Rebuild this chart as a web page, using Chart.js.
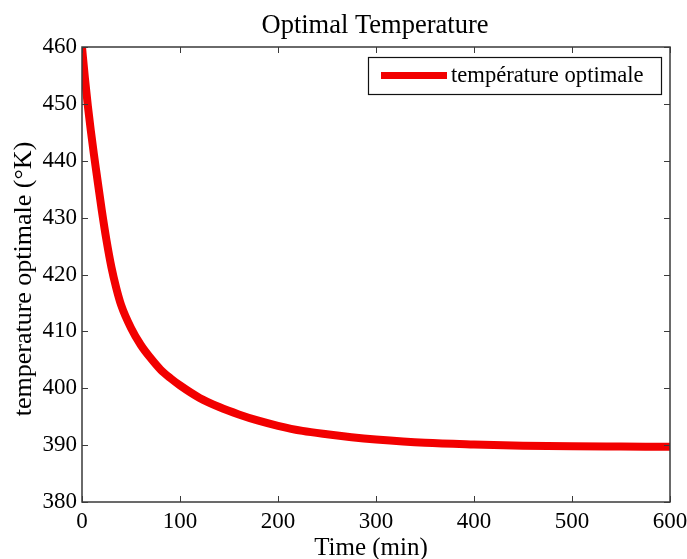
<!DOCTYPE html>
<html>
<head>
<meta charset="utf-8">
<script src="https://cdn.jsdelivr.net/npm/chart.js@4.4.1/dist/chart.umd.min.js"></script>
<style>
html,body{margin:0;padding:0;background:#fff;}
#wrap{width:687px;height:559px;position:relative;}
</style>
</head>
<body>
<div id="wrap"><canvas id="c" width="687" height="559"></canvas></div>
<script>
const chartTitle = "Optimal Temperature";
const xTitle = "Time (min)";
const yTitle = "temperature optimale (\u00B0K)";
const seriesLabel = "température optimale";
const xTicks = [0, 100, 200, 300, 400, 500, 600];
const yTicks = [380, 390, 400, 410, 420, 430, 440, 450, 460];
const times = [0, 3, 6, 9, 12, 15, 20, 25, 30, 35, 40, 50, 60, 70, 80, 90, 100, 120, 140, 160, 180, 200, 225, 250, 275, 300, 350, 400, 450, 500, 550, 600];
const temps = [460, 454.5, 449.6, 445.3, 441.3, 437.6, 431.5, 426.0, 421.3, 417.6, 414.6, 410.6, 407.6, 405.3, 403.3, 401.8, 400.5, 398.3, 396.7, 395.4, 394.3, 393.4, 392.5, 391.9, 391.4, 391.0, 390.4, 390.1, 389.9, 389.8, 389.75, 389.7];

const FONT = "'Liberation Serif', 'Times New Roman', serif";
const frameColor = '#3a3a3a';

const framePlugin = {
  id: 'frame',
  afterDatasetsDraw(chart) {
    const {ctx, chartArea: a, scales} = chart;
    ctx.save();
    ctx.strokeStyle = frameColor;
    ctx.lineWidth = 1.5;
    ctx.strokeRect(a.left, a.top, a.right - a.left, a.bottom - a.top);
    const L = 6;
    ctx.lineWidth = 1;
    ctx.beginPath();
    xTicks.forEach(v => {
      const x = Math.round(scales.x.getPixelForValue(v)) + 0.5;
      ctx.moveTo(x, a.bottom); ctx.lineTo(x, a.bottom - L);
      ctx.moveTo(x, a.top); ctx.lineTo(x, a.top + L);
    });
    yTicks.forEach(v => {
      const y = Math.round(scales.y.getPixelForValue(v)) + 0.5;
      ctx.moveTo(a.left, y); ctx.lineTo(a.left + L, y);
      ctx.moveTo(a.right, y); ctx.lineTo(a.right - L, y);
    });
    ctx.stroke();
    // titles
    ctx.fillStyle = '#000';
    ctx.textAlign = 'center';
    ctx.textBaseline = 'alphabetic';
    ctx.font = "26.5px " + FONT;
    ctx.fillText(chartTitle, (a.left + a.right) / 2 - 1, 33);
    ctx.font = "25px " + FONT;
    ctx.fillText(xTitle, (a.left + a.right) / 2 - 5, 555);
    ctx.save();
    ctx.translate(31, 279);
    ctx.rotate(-Math.PI / 2);
    ctx.font = "26px " + FONT;
    ctx.fillText(yTitle, 0, 0);
    ctx.restore();
    // legend
    const ds = chart.data.datasets[0];
    const bx = 368, by = 57, bw = 293, bh = 37;
    ctx.fillStyle = '#fff';
    ctx.fillRect(bx, by, bw, bh);
    ctx.strokeStyle = '#111';
    ctx.lineWidth = 1.2;
    ctx.strokeRect(bx + 0.5, by + 0.5, bw, bh);
    ctx.strokeStyle = ds.borderColor;
    ctx.lineWidth = 7;
    ctx.beginPath();
    ctx.moveTo(381, 75.5); ctx.lineTo(447, 75.5);
    ctx.stroke();
    ctx.fillStyle = '#000';
    ctx.font = "22.6px " + FONT;
    ctx.textAlign = 'left';
    ctx.fillText(ds.label, 451, 82);
    ctx.restore();
  }
};

new Chart(document.getElementById('c'), {
  type: 'line',
  data: {
    datasets: [{
      label: seriesLabel,
      data: times.map((t, i) => ({x: t, y: temps[i]})),
      borderColor: '#f20000',
      borderWidth: 8,
      pointRadius: 0,
      fill: false,
      cubicInterpolationMode: 'monotone',
      borderCapStyle: 'butt'
    }]
  },
  options: {
    responsive: false,
    animation: false,
    devicePixelRatio: 1,
    layout: {padding: {top: 47, right: 17, left: 0, bottom: 0}},
    plugins: {
      legend: {display: false},
      tooltip: {enabled: false},
      title: {display: false}
    },
    scales: {
      x: {
        type: 'linear',
        min: 0, max: 600,
        afterBuildTicks: s => { s.ticks = xTicks.map(v => ({value: v})); },
        afterFit: s => { s.height = 57; s.paddingLeft = 0; s.paddingRight = 0; },
        grid: {display: false, drawTicks: false},
        border: {display: false},
        ticks: {color: '#000', font: {family: FONT, size: 23}, padding: 6, maxRotation: 0, autoSkip: false},
        title: {display: false}
      },
      y: {
        type: 'linear',
        min: 380, max: 460,
        afterBuildTicks: s => { s.ticks = yTicks.map(v => ({value: v})); },
        afterFit: s => { s.width = 82; s.paddingTop = 0; s.paddingBottom = 0; },
        grid: {display: false, drawTicks: false},
        border: {display: false},
        ticks: {color: '#000', font: {family: FONT, size: 23}, padding: 5, autoSkip: false},
        title: {display: false}
      }
    }
  },
  plugins: [framePlugin]
});
</script>
</body>
</html>
